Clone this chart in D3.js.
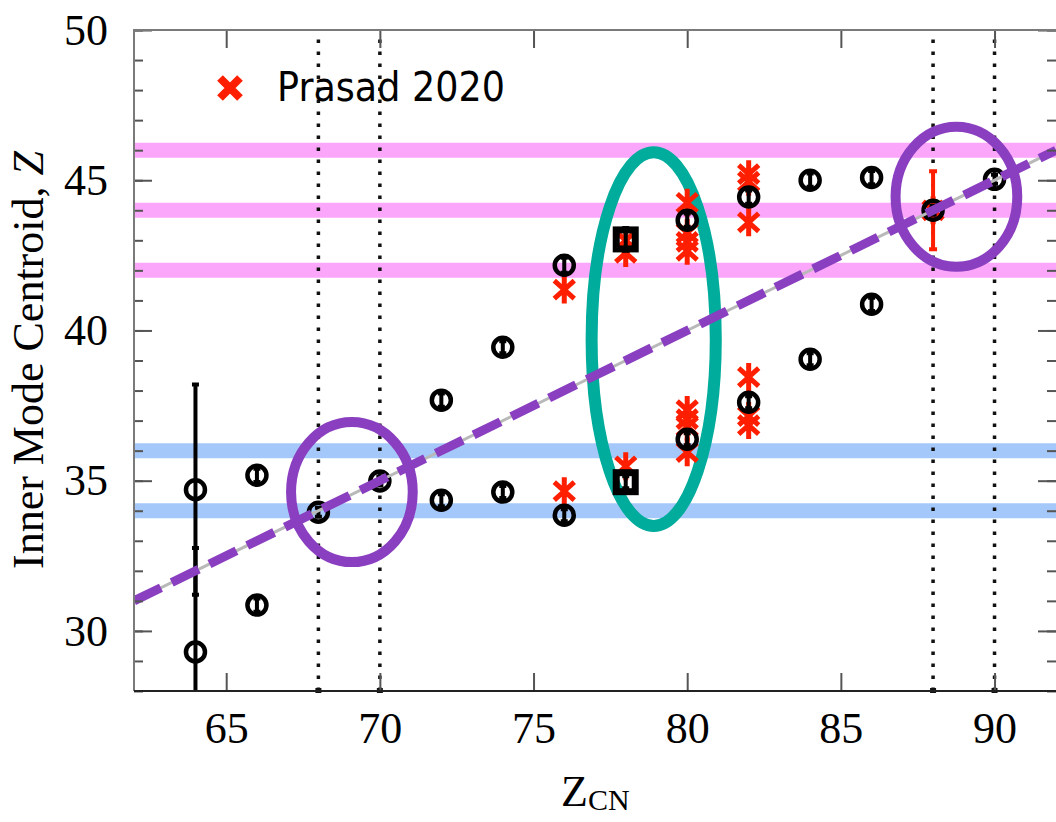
<!DOCTYPE html>
<html>
<head>
<meta charset="utf-8">
<script src="https://cdn.jsdelivr.net/npm/d3@7"></script>
<style>
  html, body { margin: 0; padding: 0; background: #fff; }
  svg { display: block; }
</style>
</head>
<body>
<svg id="chart" width="1056" height="822"></svg>
<script>
// ---- data ----
// black markers: this work (circles), Z_CN and inner-mode centroid with error
const modeZcn = [64, 64, 66, 66, 68, 70, 72, 72, 74, 74, 76, 76, 80, 80, 82, 82, 84, 84, 86, 86, 88, 90];
const modeCentroid = [34.7, 29.3, 35.18, 30.86, 33.95, 34.99, 37.68, 34.35, 39.44, 34.62, 42.17, 33.85, 43.67, 36.38, 44.44, 37.61, 45.0, 39.04, 45.09, 40.87, 44.0, 45.03];
const modeErr = [3.5, 3.46, 0.22, 0.22, 0.15, 0.15, 0.22, 0.2, 0.2, 0.2, 0.25, 0.2, 0.22, 0.2, 0.22, 0.2, 0.22, 0.2, 0.22, 0.22, 0.15, 0.15];
// black squares at Z_CN = 78
const squareZcn = [78, 78];
const squareCentroid = [43.03, 34.95];
const squareErr = [0.38, 0.2];
// red asterisks: Prasad 2020
const prasadZcn = [76, 76, 78, 78, 78, 80, 80, 80, 80, 80, 80, 80, 80, 82, 82, 82, 82, 82, 82, 88];
const prasadCentroid = [41.36, 34.65, 43.0, 42.58, 35.48, 44.25, 43.25, 42.95, 42.65, 37.35, 37.05, 36.8, 35.95, 45.2, 44.95, 43.6, 38.45, 37.15, 36.85, 44.0];
const prasadErr = [0, 0, 0, 0, 0, 0, 0, 0, 0, 0, 0, 0, 0, 0, 0, 0, 0, 0, 0, 1.3];
// horizontal shell bands and vertical markers
const pinkBands = [46, 44, 42];
const blueBands = [36, 34];
const vLines = [68, 70, 88, 90];
// symmetric-split line Z = Z_CN / 2
const fitX = [62, 92];
const fitY = [31, 46];
// highlighted regions: [cx, cy, rx, ry] in data units
const purpleRegions = [[69.09, 34.62, 1.98, 2.33], [88.76, 44.45, 1.98, 2.33]];
const tealRegions = [[78.91, 39.71, 2.02, 6.22]];
// ticks
const xMajorTicks = [65, 70, 75, 80, 85, 90];
const yMajorTicks = [30, 35, 40, 45, 50];
const yMinorTicks = d3.range(28, 51, 1);

// ---- layout ----
const svg = d3.select("#chart");
const L = 134, R = 1056, T = 30, B = 691;
const x = d3.scaleLinear().domain([62, 92]).range([L, R]);
const y = d3.scaleLinear().domain([28, 50]).range([B, T]);

const pink = "#fba6fa", blue = "#a5c8fa", purple = "#8a3fc0", teal = "#00ac9c", red = "#ff1f00";

svg.append("defs").append("clipPath").attr("id", "plot")
  .append("rect").attr("x", L).attr("y", T).attr("width", R - L).attr("height", B - T);

const plot = svg.append("g").attr("clip-path", "url(#plot)");

// bands
plot.selectAll(".pband").data(pinkBands).join("line")
  .attr("x1", L).attr("x2", R).attr("y1", d => y(d)).attr("y2", d => y(d))
  .attr("stroke", pink).attr("stroke-width", 15);
plot.selectAll(".bband").data(blueBands).join("line")
  .attr("x1", L).attr("x2", R).attr("y1", d => y(d)).attr("y2", d => y(d))
  .attr("stroke", blue).attr("stroke-width", 15);

// dotted verticals
plot.selectAll(".vl").data(vLines).join("line")
  .attr("x1", d => x(d)).attr("x2", d => x(d)).attr("y1", B).attr("y2", T)
  .attr("stroke", "#111").attr("stroke-width", 3.5).attr("stroke-dasharray", "3.5 8.5");
svg.selectAll(".vcap").data(vLines).join("rect")
  .attr("x", d => x(d) - 3).attr("y", B - 3).attr("width", 6).attr("height", 5).attr("fill", "#111");

// teal region
plot.selectAll(".teal").data(tealRegions).join("ellipse")
  .attr("cx", d => x(d[0])).attr("cy", d => y(d[1]))
  .attr("rx", d => x(d[0] + d[2]) - x(d[0])).attr("ry", d => y(d[1]) - y(d[1] + d[3]))
  .attr("fill", "none").attr("stroke", teal).attr("stroke-width", 12);

// red asterisks with error bars
const star = "M-10,-9L10,9M-10,9L10,-9M0,-14L0,14";
const prasad = prasadZcn.map((z, i) => ({ z, v: prasadCentroid[i], e: prasadErr[i] }));
const pg = plot.append("g");
pg.selectAll(".perr").data(prasad.filter(d => d.e > 0)).join("path")
  .attr("d", d => {
    const cx = x(d.z), y1 = y(d.v + d.e), y2 = y(d.v - d.e);
    return `M${cx},${y1}L${cx},${y2}M${cx - 4},${y1}L${cx + 4},${y1}M${cx - 4},${y2}L${cx + 4},${y2}`;
  })
  .attr("stroke", red).attr("stroke-width", 4).attr("fill", "none");
pg.selectAll(".pstar").data(prasad).join("path")
  .attr("transform", d => `translate(${x(d.z)},${y(d.v)})`)
  .attr("d", star).attr("stroke", red).attr("stroke-width", 5).attr("fill", "none");

// black circles with error bars
const modes = modeZcn.map((z, i) => ({ z, v: modeCentroid[i], e: modeErr[i] }));
const bg = plot.append("g");
bg.selectAll(".berr").data(modes).join("path")
  .attr("d", d => {
    const cx = x(d.z), y1 = y(d.v + d.e), y2 = y(d.v - d.e);
    return `M${cx},${y1}L${cx},${y2}M${cx - 3.5},${y1}L${cx + 3.5},${y1}M${cx - 3.5},${y2}L${cx + 3.5},${y2}`;
  })
  .attr("stroke", "#000").attr("stroke-width", 4).attr("fill", "none");
bg.selectAll(".bdot").data(modes).join("circle")
  .attr("cx", d => x(d.z)).attr("cy", d => y(d.v)).attr("r", 9.5)
  .attr("fill", "none").attr("stroke", "#000").attr("stroke-width", 4.5);

// black squares
const squares = squareZcn.map((z, i) => ({ z, v: squareCentroid[i], e: squareErr[i] }));
bg.selectAll(".serr").data(squares).join("path")
  .attr("d", d => {
    const cx = x(d.z), y1 = y(d.v + d.e), y2 = y(d.v - d.e);
    return `M${cx},${y1}L${cx},${y2}M${cx - 3.5},${y1}L${cx + 3.5},${y1}M${cx - 3.5},${y2}L${cx + 3.5},${y2}`;
  })
  .attr("stroke", "#000").attr("stroke-width", 4).attr("fill", "none");
bg.selectAll(".sq").data(squares).join("rect")
  .attr("x", d => x(d.z) - 9.5).attr("y", d => y(d.v) - 9.5).attr("width", 19).attr("height", 19)
  .attr("fill", "none").attr("stroke", "#000").attr("stroke-width", 7);

// Z_CN / 2 line: thin grey under a purple dashed line
const fit = d3.line().x(d => x(d[0])).y(d => y(d[1]));
const fitPts = fitX.map((v, i) => [v, fitY[i]]);
plot.append("path").attr("d", fit(fitPts)).attr("stroke", "#b9b9b9").attr("stroke-width", 3).attr("fill", "none");
plot.append("path").attr("d", fit(fitPts)).attr("stroke", purple).attr("stroke-width", 9)
  .attr("stroke-dasharray", "30 12").attr("fill", "none");

// purple regions
plot.selectAll(".purp").data(purpleRegions).join("ellipse")
  .attr("cx", d => x(d[0])).attr("cy", d => y(d[1]))
  .attr("rx", d => x(d[0] + d[2]) - x(d[0])).attr("ry", d => y(d[1]) - y(d[1] + d[3]))
  .attr("fill", "none").attr("stroke", purple).attr("stroke-width", 10);

// ---- axes ----
const serif = "'Liberation Serif', 'Times New Roman', serif";
function styleAxis(g) {
  g.select(".domain").remove();
  g.selectAll(".tick line").attr("stroke", "#555").attr("stroke-width", 2);
  g.selectAll(".tick text").attr("font-family", serif).attr("font-size", 44).attr("fill", "#000");
}
svg.append("g").attr("transform", `translate(${L},0)`)
  .call(d3.axisLeft(y).tickValues(yMinorTicks).tickSize(-9).tickFormat(""))
  .call(styleAxis);
svg.append("g").attr("transform", `translate(${L},0)`)
  .call(d3.axisLeft(y).tickValues(yMajorTicks).tickSize(-18).tickPadding(26).tickFormat(d3.format("d")))
  .call(styleAxis);
svg.append("g").attr("transform", `translate(${R},0)`)
  .call(d3.axisRight(y).tickValues(yMinorTicks).tickSize(-9).tickFormat(""))
  .call(styleAxis);
svg.append("g").attr("transform", `translate(${R},0)`)
  .call(d3.axisRight(y).tickValues(yMajorTicks).tickSize(-18).tickFormat(""))
  .call(styleAxis);
svg.append("g").attr("transform", `translate(0,${B})`)
  .call(d3.axisBottom(x).tickValues(xMajorTicks).tickSize(-18).tickPadding(21).tickFormat(d3.format("d")))
  .call(styleAxis);
svg.append("g").attr("transform", `translate(0,${T})`)
  .call(d3.axisTop(x).tickValues(xMajorTicks).tickSize(-18).tickFormat(""))
  .call(styleAxis);

// frame
svg.append("path").attr("d", `M${R},${T}L${L},${T}L${L},${B}`).attr("stroke", "#7a7a7a").attr("stroke-width", 2).attr("fill", "none");
svg.append("line").attr("x1", L).attr("x2", R).attr("y1", B).attr("y2", B).attr("stroke", "#222").attr("stroke-width", 2);

// axis titles
const yTitle = svg.append("text").attr("transform", "translate(43,360) rotate(-90)")
  .attr("text-anchor", "middle").attr("font-family", serif).attr("font-size", 44).attr("fill", "#000");
yTitle.append("tspan").text("Inner Mode Centroid, ");
yTitle.append("tspan").attr("font-style", "italic").text("Z");

const xTitle = svg.append("text").attr("x", 561).attr("y", 806)
  .attr("font-family", serif).attr("font-size", 44).attr("fill", "#000");
xTitle.append("tspan").text("Z");
xTitle.append("tspan").attr("font-size", 30).attr("dy", 4).text("CN");

// legend
svg.append("path").attr("transform", "translate(230,88)")
  .attr("d", "M-10,-10L10,10M-10,10L10,-10").attr("stroke", red).attr("stroke-width", 8);
svg.append("text").attr("x", 277).attr("y", 101)
  .attr("font-family", "'DejaVu Sans', Verdana, sans-serif").attr("font-size", 40)
  .attr("textLength", 228).attr("lengthAdjust", "spacingAndGlyphs").attr("fill", "#000")
  .text("Prasad 2020");
</script>
</body>
</html>
